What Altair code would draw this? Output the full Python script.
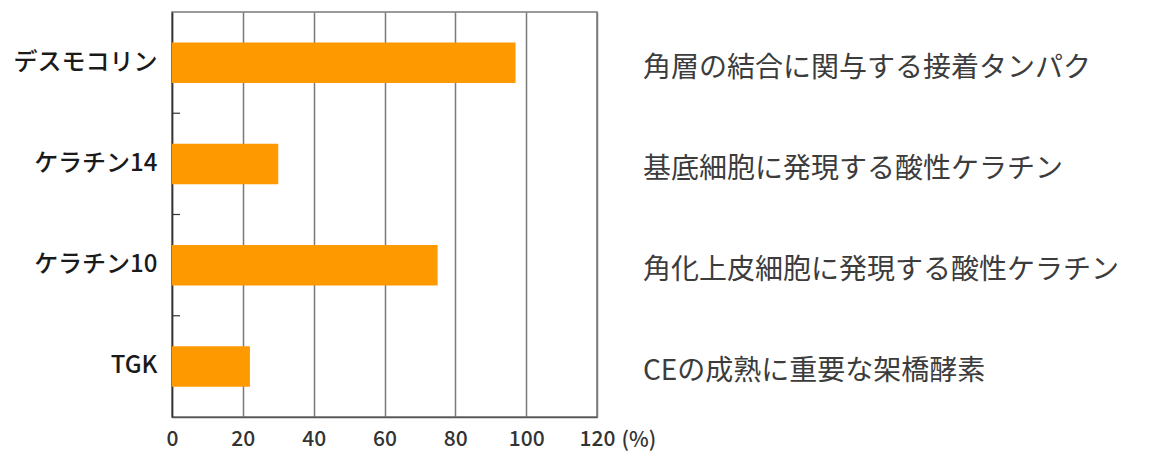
import altair as alt
import pandas as pd

categories = ["デスモコリン", "ケラチン14", "ケラチン10", "TGK"]
values = [97, 30, 75, 22]
descriptions = [
    "角層の結合に関与する接着タンパク",
    "基底細胞に発現する酸性ケラチン",
    "角化上皮細胞に発現する酸性ケラチン",
    "CEの成熟に重要な架橋酵素",
]
x_ticks = [0, 20, 40, 60, 80, 100, 120]

df = pd.DataFrame({"cat": categories, "val": values, "desc": descriptions})

W, H = 425, 405
FONT = "Noto Sans CJK JP"

yenc = alt.Y(
    "cat:N",
    sort=categories,
    scale=alt.Scale(paddingInner=0, paddingOuter=0),
    axis=alt.Axis(
        title=None, ticks=False, labelFont=FONT, labelFontSize=24,
        labelFontWeight=500, labelColor="#1a1a1a", labelPadding=15,
        domainColor="#333333", domainWidth=1.5, grid=False,
    ),
)

bars = alt.Chart(df).mark_bar(
    color="#FF9900", height=alt.RelativeBandSize(0.4)
).encode(
    x=alt.X(
        "val:Q",
        scale=alt.Scale(domain=[0, 120], nice=False),
        axis=alt.Axis(
            values=x_ticks, title="(%)", ticks=False, grid=True,
            gridColor="#7a7a7a", gridWidth=1.5, gridOpacity=1,
            domainColor="#555555", domainWidth=1.5, labelFlush=False,
            labelFont=FONT, labelFontSize=21, labelFontWeight=500,
            labelColor="#333333", labelPadding=11,
            titleFont=FONT, titleFontSize=21, titleFontWeight=500,
            titleColor="#333333",
            titleX=W + 24, titleY=23, titleAlign="left",
            titleBaseline="middle", titleAnchor="start",
        ),
    ),
    y=yenc,
)

ticks = alt.Chart(df).transform_filter(
    alt.datum.cat != categories[0]
).mark_rule(color="#333333", strokeWidth=1.2).encode(
    y=alt.Y("cat:N", sort=categories, bandPosition=0),
    x=alt.value(0),
    x2=alt.value(8),
)

texts = alt.Chart(df).mark_text(
    align="left", baseline="middle", font=FONT, fontSize=28,
    color="#3c3c3c", dy=6,
).encode(
    y=alt.Y("cat:N", sort=categories),
    x=alt.value(W + 46),
    text="desc:N",
)

chart = alt.layer(bars, ticks, texts).properties(
    width=W, height=H,
    autosize=alt.AutoSizeParams(type="none"),
    padding={"left": 164, "top": 4, "right": 552, "bottom": 35},
    background="white",
).configure_view(stroke="#7a7a7a", strokeWidth=1.5)

chart.save("out.html", embed_options={"renderer": "svg", "actions": False})
